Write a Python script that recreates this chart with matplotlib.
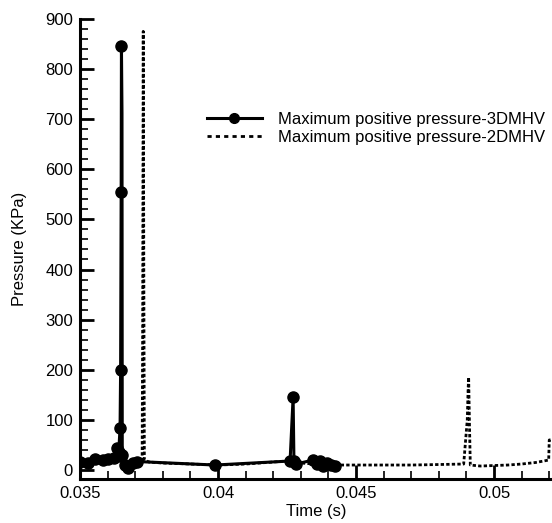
import matplotlib

matplotlib.use('Agg')
import matplotlib.pyplot as plt  # noqa: E402
from matplotlib.lines import Line2D  # noqa: E402
from matplotlib.ticker import MultipleLocator  # noqa: E402

# Maximum positive pressure, 3D MHV model (solid line with markers)
time_3d = [0.03500, 0.03529, 0.03554, 0.03583, 0.03601, 0.03623, 0.03634, 0.03640,
           0.03645, 0.03647, 0.03649, 0.03650, 0.03652, 0.03653, 0.03663, 0.03674,
           0.03692, 0.03707, 0.03989, 0.04261, 0.04272, 0.04275, 0.04283, 0.04344,
           0.04359, 0.04370, 0.04380, 0.04395, 0.04409, 0.04424]
pressure_3d = [17, 15, 22, 20, 22, 25, 44, 35,
               84, 200, 555, 845, 712, 30, 10, 5,
               15, 17, 10, 18, 145, 18, 12, 20,
               12, 18, 8, 15, 10, 8]
# the point at 712 kPa is a line vertex only, no marker in the original
unmarked_3d = [12]

# Maximum positive pressure, 2D MHV model (dotted line)
time_2d = [0.03500, 0.03600, 0.03700, 0.03725, 0.03727, 0.03729, 0.03731, 0.03733,
           0.03750, 0.03800, 0.03900, 0.04000, 0.04100, 0.04200, 0.04250, 0.04300,
           0.04400, 0.04500, 0.04600, 0.04700, 0.04800, 0.04890, 0.04903, 0.04906,
           0.04908, 0.04911, 0.04914, 0.04950, 0.05000, 0.05050, 0.05100, 0.05150,
           0.05180, 0.05198, 0.05200, 0.05215]
pressure_2d = [15, 17, 18, 20, 300, 875, 400, 20,
               16, 14, 12, 10, 12, 16, 18, 14,
               10, 10, 10, 10, 11, 12, 100, 160,
               185, 90, 10, 8, 9, 10, 12, 15,
               18, 20, 60, 60]

label_3d = 'Maximum positive pressure-3DMHV'
label_2d = 'Maximum positive pressure-2DMHV'

plt.rcParams['font.family'] = ['Liberation Sans', 'DejaVu Sans']

figure = plt.figure(figsize=(5.52, 5.23), dpi=100)
axis = figure.add_axes([0.145, 0.084, 0.855, 0.880])

axis.plot(time_2d, pressure_2d, color='black', linewidth=2.0,
          linestyle=(0, (1.2, 0.8)))
marked = [i for i in range(len(time_3d)) if i not in unmarked_3d]
axis.plot(time_3d, pressure_3d, color='black', linewidth=2.2,
          marker='o', markersize=8, markevery=marked)

axis.set_xlim(0.035, 0.0521)
axis.set_ylim(-18, 900)
axis.xaxis.set_major_locator(MultipleLocator(0.005))
axis.xaxis.set_minor_locator(MultipleLocator(0.001))
axis.yaxis.set_major_locator(MultipleLocator(100))
axis.yaxis.set_minor_locator(MultipleLocator(20))
axis.set_xticks([0.035, 0.04, 0.045, 0.05], labels=['0.035', '0.04', '0.045', '0.05'])

axis.spines['top'].set_visible(False)
axis.spines['right'].set_visible(False)
axis.spines['left'].set_linewidth(2.2)
axis.spines['bottom'].set_linewidth(2.2)
axis.tick_params(which='major', direction='in', length=10, width=2, labelsize=12, pad=5)
axis.tick_params(which='minor', direction='in', length=6, width=1.2)

axis.set_xlabel('Time (s)', fontsize=12, labelpad=2)
axis.set_ylabel('Pressure (KPa)', fontsize=12, labelpad=13)

handles = [
    Line2D([], [], color='black', linewidth=2.2, marker='o', markersize=7),
    Line2D([], [], color='black', linewidth=2.0, linestyle=(0, (1.5, 1.5))),
]
axis.legend(handles, [label_3d, label_2d], loc='upper right', frameon=False,
            fontsize=12, handlelength=3.3, handletextpad=1.0, labelspacing=0.15,
            numpoints=1, bbox_to_anchor=(1.0, 0.812), borderaxespad=0.0)

figure.savefig('out.png', dpi=100)
plt.close(figure)
